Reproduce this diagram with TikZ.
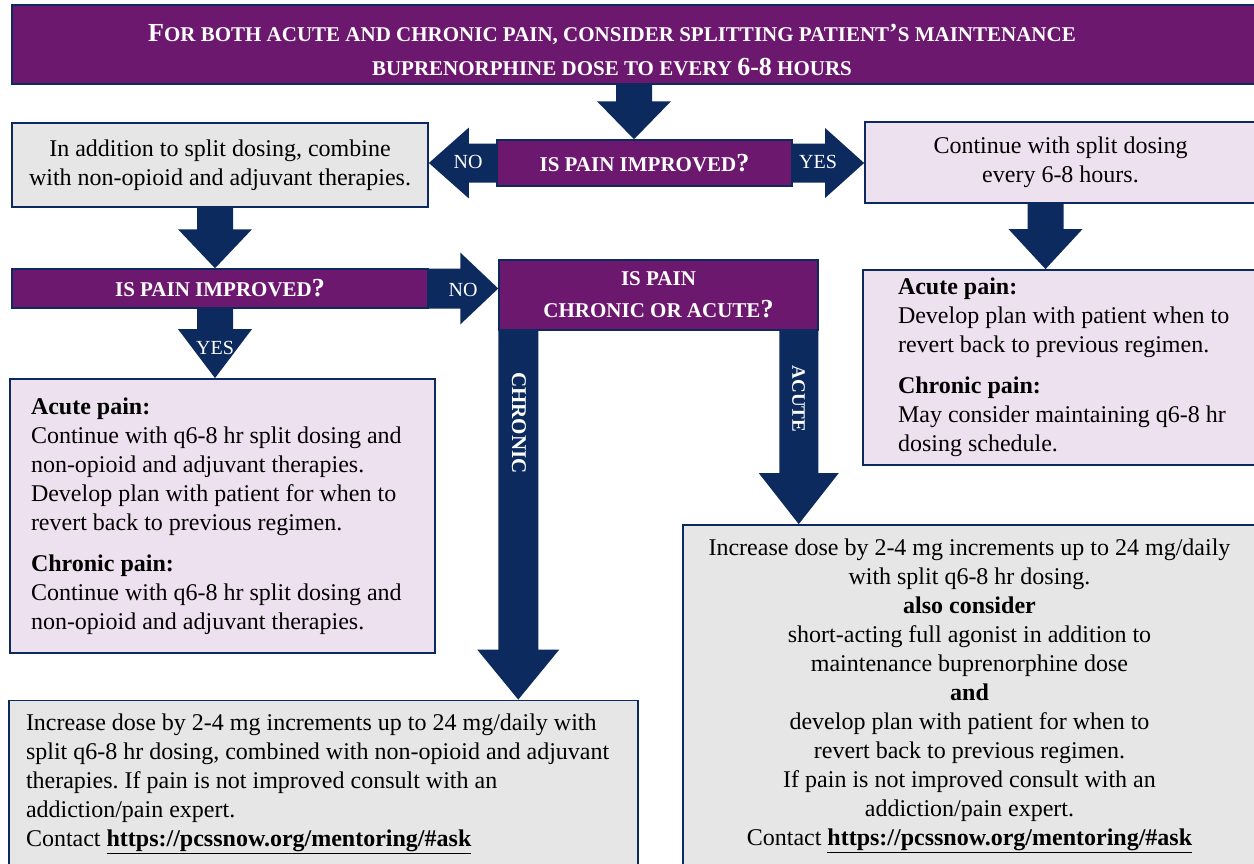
\documentclass[tikz,border=0pt]{standalone}
\usepackage{fontspec}
\setmainfont{Liberation Serif}
\usetikzlibrary{calc}
\frenchspacing

\definecolor{purp}{HTML}{6C186E}
\definecolor{navyblue}{HTML}{0C2A5E}
\definecolor{boxgray}{HTML}{E6E6E6}
\definecolor{lavender}{HTML}{EEE1EF}

\newcommand{\smc}[1]{{\fontsize{21}{26}\selectfont #1}}
\newcommand{\bodyfont}{\fontsize{24}{29}\selectfont}

% block arrows: from, to, shaft half width, head half width, head length
\newcommand{\arrdown}[5]{\fill[navyblue] let \p1=(#1), \p2=(#2) in
  (\x1-#3pt,\y1) -- (\x1+#3pt,\y1) -- (\x1+#3pt,\y2+#5pt) -- (\x1+#4pt,\y2+#5pt) -- (\x1,\y2)
  -- (\x1-#4pt,\y2+#5pt) -- (\x1-#3pt,\y2+#5pt) -- cycle;}
\newcommand{\arrright}[5]{\fill[navyblue] let \p1=(#1), \p2=(#2) in
  (\x1,\y1+#3pt) -- (\x2-#5pt,\y1+#3pt) -- (\x2-#5pt,\y1+#4pt) -- (\x2,\y1)
  -- (\x2-#5pt,\y1-#4pt) -- (\x2-#5pt,\y1-#3pt) -- (\x1,\y1-#3pt) -- cycle;}
\newcommand{\arrleft}[5]{\fill[navyblue] let \p1=(#1), \p2=(#2) in
  (\x1,\y1+#3pt) -- (\x2+#5pt,\y1+#3pt) -- (\x2+#5pt,\y1+#4pt) -- (\x2,\y1)
  -- (\x2+#5pt,\y1-#4pt) -- (\x2+#5pt,\y1-#3pt) -- (\x1,\y1-#3pt) -- cycle;}

\tikzset{
  purpbox/.style={draw=navyblue, line width=1.5pt, fill=purp, text=white, inner sep=0pt, align=center,
    font=\bfseries\fontsize{26}{32}\selectfont},
  graybox/.style={draw=navyblue, line width=1.8pt, fill=boxgray, inner sep=0pt, font=\bodyfont},
  lavbox/.style={draw=navyblue, line width=1.8pt, fill=lavender, inner sep=0pt, font=\bodyfont},
  arrlabel/.style={text=white, inner sep=0pt, font=\fontsize{20}{24}\selectfont},
}

\begin{document}
\begin{tikzpicture}[x=1pt, y=-1pt]
% Background
\fill[white] (0,0) rectangle (1254,863);
\useasboundingbox (0,0) rectangle (1254,863);

% Banner
\node[purpbox, minimum width=1244pt, minimum height=79pt] (banner) at (634,44.5) {};
\node[text=white, inner sep=0pt, align=center, font=\bfseries\fontsize{26}{34}\selectfont] (bannertxt) at (612,50)
  {F\smc{OR BOTH ACUTE AND CHRONIC PAIN, CONSIDER SPLITTING PATIENT}’\smc{S MAINTENANCE}\\
   \smc{BUPRENORPHINE DOSE TO EVERY }6-8\smc{ HOURS}};

% First question
\node[purpbox, minimum width=295pt, minimum height=46pt] (q1) at (644.5,163) {\smc{IS PAIN IMPROVED}?};
\node[graybox, minimum width=416pt, minimum height=84pt, align=center] (in1) at (220,165)
  {In addition to split dosing, combine\\with non-opioid and adjuvant therapies.};
\node[lavbox, minimum width=391pt, minimum height=81pt, align=center] (cont1) at (1060.5,162.5)
  {Continue with split dosing\\every 6-8 hours.};

% Second questions
\node[purpbox, minimum width=416pt, minimum height=39pt] (q2) at (220,288.5) {\smc{IS PAIN IMPROVED}?};
\node[purpbox, minimum width=319pt, minimum height=70pt] (q3) at (658.5,295) {\smc{IS PAIN}\\\smc{CHRONIC OR ACUTE}?};

% Plans
\node[lavbox, text width=383pt, inner xsep=21pt, minimum height=274pt, align=flush left] (plan1) at (222.5,516)
  {\textbf{Acute pain:}\\
   Continue with q6-8 hr split dosing and\\
   non-opioid and adjuvant therapies.\\
   Develop plan with patient for when to\\
   revert back to previous regimen.\\[12pt]
   \textbf{Chronic pain:}\\
   Continue with q6-8 hr split dosing and\\
   non-opioid and adjuvant therapies.};
\node[lavbox, text width=340pt, inner xsep=35pt, minimum height=195pt, align=flush left] (plan2) at (1068,367.5)
  {\textbf{Acute pain:}\\
   Develop plan with patient when to\\
   revert back to previous regimen.\\[12pt]
   \textbf{Chronic pain:}\\
   May consider maintaining q6-8 hr\\
   dosing schedule.};
\node[graybox, text width=595pt, inner xsep=17pt, minimum height=167pt, align=flush left] (bottom1) at (323.5,784)
  {Increase dose by 2-4 mg increments up to 24 mg/daily with\\
   split q6-8 hr dosing, combined with non-opioid and adjuvant\\
   therapies. If pain is not improved consult with an\\
   addiction/pain expert.\\
   Contact \underline{\textbf{https://pcssnow.org/mentoring/\#ask}}};
\node[graybox, minimum width=573pt, minimum height=341pt, align=center] (bottom2) at (969.5,695.5)
  {Increase dose by 2-4 mg increments up to 24 mg/daily\\
   with split q6-8 hr dosing.\\
   \textbf{also consider}\\
   short-acting full agonist in addition to\\
   maintenance buprenorphine dose\\
   \textbf{and}\\
   develop plan with patient for when to\\
   revert back to previous regimen.\\
   If pain is not improved consult with an\\
   addiction/pain expert.\\
   Contact \underline{\textbf{https://pcssnow.org/mentoring/\#ask}}};

% Arrows
\arrdown{banner.south}{q1.north}{18}{37}{38}
\arrleft{q1.west}{in1.east}{19.5}{35.5}{40}
\arrright{q1.east}{cont1.west}{19.5}{35}{39}
\arrdown{[xshift=-5pt]in1.south}{q2.north}{18}{37}{39}
\arrdown{[xshift=-15pt]cont1.south}{plan2.north}{18}{37}{40}
\arrright{q2.east}{q3.west}{20}{36}{38}
\arrdown{[xshift=-5pt]q2.south}{plan1.north}{18}{37}{49}
\arrdown{[xshift=20pt]q3.south west}{bottom1.north}{20}{41}{50}
\arrdown{[xshift=-20pt]q3.south east}{bottom2.north}{19.5}{40}{51}

% Arrow labels
\node[arrlabel] (nolbl1) at (468,162) {NO};
\node[arrlabel] (yeslbl1) at (818,162) {YES};
\node[arrlabel] (nolbl2) at (463,290) {NO};
\node[arrlabel] (yeslbl2) at (215,348) {YES};
\node[arrlabel, rotate=-90, font=\bfseries\fontsize{21}{24}\selectfont] (chroniclbl) at (519,423) {CHRONIC};
\node[arrlabel, rotate=-90, font=\bfseries\fontsize{19}{22}\selectfont] (acutelbl) at (798.5,399) {ACUTE};
\end{tikzpicture}
\end{document}
